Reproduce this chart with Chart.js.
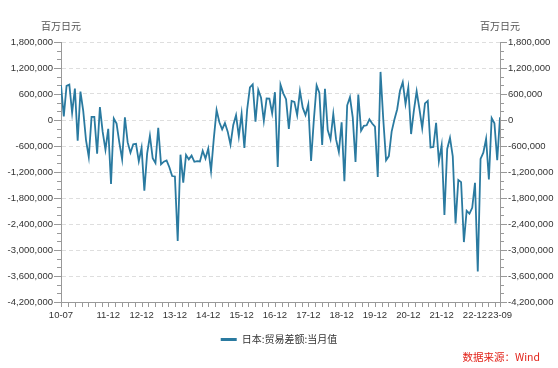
<!DOCTYPE html>
<html>
<head>
<meta charset="utf-8">
<script src="https://cdn.jsdelivr.net/npm/chart.js@4"></script>
<style>
  html, body { margin: 0; padding: 0; background: #fff; }
</style>
</head>
<body>
<canvas id="myChart" width="558" height="368"></canvas>
<script>
// monthly series, 2010-07 .. 2023-09 (百万日元)
const startYear = 2010;
const startMonth = 7;
const tickLabels = ['10-07', '11-12', '12-12', '13-12', '14-12', '15-12', '16-12',
    '17-12', '18-12', '19-12', '20-12', '21-12', '22-12', '23-09'];
const balance = [
    804000, 80000, 787000, 815000, 165000, 727000,
    -475000, 654000, 210000, -463000, -854000, 70000, 72000, -775000, 296000, -275000, -685000, -205000,
    -1475000, 33000, -83000, -521000, -907000, 62000, -518000, -754000, -559000, -549000, -954000, -642000,
    -1630000, -778000, -362000, -880000, -994000, -180000, -1024000, -962000, -932000, -1091000, -1293000, -1302000,
    -2790000, -800000, -1446000, -808000, -909000, -822000, -964000, -948000, -958000, -710000, -891000, -660000,
    -1178000, -424000, 229000, -53000, -216000, -70000, -268000, -569000, -115000, 111000, -380000, 140000,
    -646000, 243000, 755000, 823000, -41000, 693000, 513000, -19000, 498000, 496000, 153000, 641000,
    -1086000, 813000, 615000, 481000, -203000, 440000, 419000, 113000, 670000, 285000, 113000, 359000,
    -944000, 3000, 797000, 626000, -578000, 721000, -231000, -444000, 140000, -449000, -737000, -55000,
    -1415000, 339000, 528000, 60000, -967000, 589000, -249000, -136000, -123000, 17000, -82000, -154000,
    -1313000, 1110000, 5000, -930000, -833000, -269000, 11000, 248000, 675000, 873000, 367000, 751000,
    -324000, 217000, 663000, 255000, -187000, 383000, 441000, -635000, -623000, -67000, -954000, -582000,
    -2191000, -668000, -412000, -839000, -2385000, -1383000, -1433000, -2817000, -2094000, -2162000, -2027000, -1448000,
    -3497000, -897000, -754000, -432000, -1372000, 43000, -78000, -930000, 62000
];
const seriesName = '日本:贸易差额:当月值';
const unitText = '百万日元';
const sourceText = '数据来源：Wind';

// yy-mm category for every point
const months = [];
for (let i = 0; i < balance.length; i++) {
    const m = startMonth - 1 + i;
    const yy = (startYear + Math.floor(m / 12)) % 100;
    const mm = m % 12 + 1;
    months.push(String(yy).padStart(2, '0') + '-' + String(mm).padStart(2, '0'));
}

const labelAt = {};
tickLabels.forEach(l => { labelAt[months.indexOf(l)] = l; });

// minor x ticks every 2.4 months, anchored on the yearly labels
const xTicks = [0];
for (let k = -6; k <= 60; k++) {
    const v = Math.round((months.indexOf('11-12') + 2.4 * k) * 10) / 10;
    if (v > 0 && v < balance.length - 1) xTicks.push(v);
}
xTicks.push(balance.length - 1);

const latin = '"Liberation Sans", Arial, sans-serif';
const cjk = '"Noto Sans CJK SC", sans-serif';
const lineColor = '#2a7aa0';

const decor = {
    id: 'decor',
    afterDraw(chart) {
        const { ctx, chartArea: a, scales } = chart;
        ctx.save();
        ctx.strokeStyle = '#999';
        ctx.lineWidth = 1;
        ctx.beginPath();
        ['y', 'y2'].forEach(id => {
            const s = scales[id];
            const x0 = id === 'y' ? a.left : a.right;
            const dir = id === 'y' ? -1 : 1;
            s.ticks.forEach(t => {
                const py = Math.round(s.getPixelForValue(t.value)) + 0.5;
                const len = t.value % 600000 === 0 ? 7 : 4;
                ctx.moveTo(x0, py);
                ctx.lineTo(x0 + dir * len, py);
            });
        });
        scales.x.ticks.forEach(t => {
            const px = Math.round(scales.x.getPixelForValue(t.value)) + 0.5;
            ctx.moveTo(px, a.bottom);
            ctx.lineTo(px, a.bottom + 5);
        });
        ctx.stroke();

        // unit labels above both axes
        ctx.fillStyle = '#555';
        ctx.font = '10px ' + cjk;
        ctx.textAlign = 'center';
        ctx.textBaseline = 'middle';
        ctx.fillText(unitText, a.left, 26);
        ctx.fillText(unitText, a.right, 26);

        // legend
        const name = chart.data.datasets[0].label;
        const tw = ctx.measureText(name).width;
        const total = 16 + 5 + tw;
        const lx = chart.width / 2 - total / 2;
        ctx.strokeStyle = lineColor;
        ctx.lineWidth = 3;
        ctx.beginPath();
        ctx.moveTo(lx, 339.5);
        ctx.lineTo(lx + 16, 339.5);
        ctx.stroke();
        ctx.fillStyle = '#333';
        ctx.textAlign = 'left';
        ctx.fillText(name, lx + 21, 339.5);

        // source
        ctx.fillStyle = '#e2231a';
        ctx.font = '10.5px ' + cjk;
        ctx.textAlign = 'right';
        ctx.fillText(sourceText, 540, 357);
        ctx.restore();
    }
};

const yTicks = {
    stepSize: 200000,
    autoSkip: false,
    padding: 8,
    color: '#333',
    font: { size: 9.5, family: latin },
    callback: v => v % 600000 === 0 ? v.toLocaleString('en-US') : ''
};

new Chart(document.getElementById('myChart').getContext('2d'), {
    type: 'line',
    data: {
        datasets: [{
            label: seriesName,
            data: balance.map((v, i) => ({ x: i, y: v })),
            borderColor: lineColor,
            borderWidth: 1.8,
            pointRadius: 0,
            tension: 0,
            yAxisID: 'y'
        }]
    },
    options: {
        responsive: false,
        animation: false,
        devicePixelRatio: 1,
        layout: { padding: { top: 42, right: 0, bottom: 38, left: 0 } },
        plugins: { legend: { display: false }, tooltip: { enabled: false } },
        scales: {
            x: {
                type: 'linear',
                min: 0,
                max: balance.length - 1,
                afterBuildTicks: s => { s.ticks = xTicks.map(v => ({ value: v })); },
                afterFit: s => { s.height = 28; },
                grid: { display: false, drawTicks: false, tickLength: 0 },
                border: { color: '#999' },
                ticks: {
                    autoSkip: false,
                    maxRotation: 0,
                    minRotation: 0,
                    padding: 8,
                    color: '#333',
                    font: { size: 9.5, family: latin },
                    callback: v => labelAt[v] || ''
                }
            },
            y: {
                position: 'left',
                min: -4200000,
                max: 1800000,
                afterFit: s => { s.width = 61; },
                ticks: yTicks,
                grid: {
                    drawTicks: false,
                    color: c => c.tick && c.tick.value % 600000 === 0 ? '#dedede' : 'transparent'
                },
                border: { color: '#999', dash: [4, 3] }
            },
            y2: {
                position: 'right',
                min: -4200000,
                max: 1800000,
                afterFit: s => { s.width = 58; },
                ticks: yTicks,
                grid: { drawOnChartArea: false, drawTicks: false },
                border: { color: '#999' }
            }
        }
    },
    plugins: [decor]
});
</script>
</body>
</html>
